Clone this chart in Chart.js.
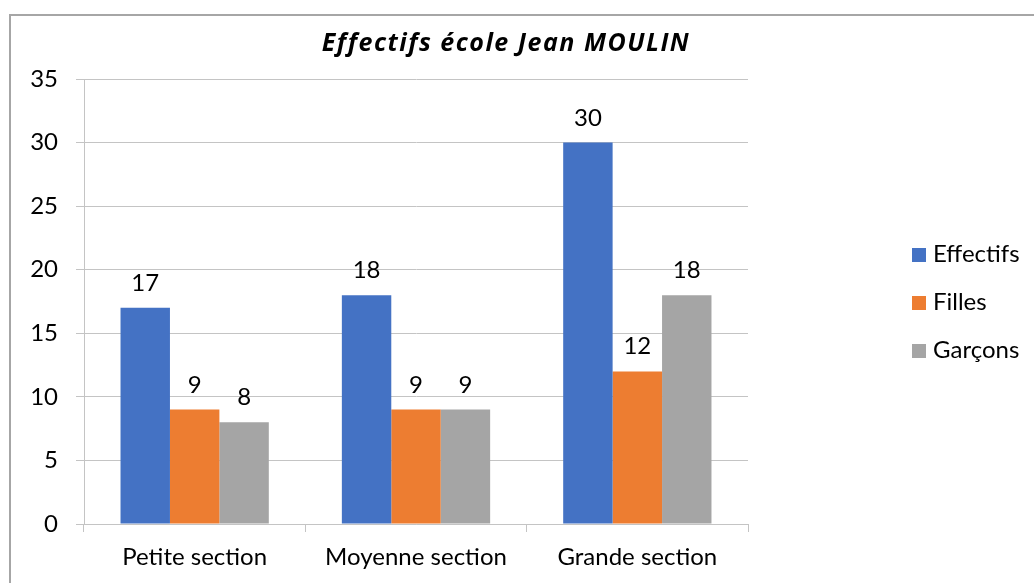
<!DOCTYPE html>
<html>
<head>
<meta charset="utf-8">
<script src="https://cdn.jsdelivr.net/npm/chart.js@4.4.0/dist/chart.umd.min.js"></script>
<style>
  html, body { margin: 0; padding: 0; background: #fff; }
  #wrap { width: 1034px; height: 583px; position: relative; }
</style>
</head>
<body>
<div id="wrap"><canvas id="myChart"></canvas></div>
<script>
const categories = ["Petite section", "Moyenne section", "Grande section"];
const effectifs = [17, 18, 30];
const filles = [9, 9, 12];
const garcons = [8, 9, 18];
const seriesNames = ["Effectifs", "Filles", "Garçons"];
const seriesColors = ["#4472C4", "#ED7D31", "#A5A5A5"];
const yMin = 0, yMax = 35, yStep = 5;
const chartTitle = "Effectifs école Jean MOULIN";

const FONT = "Lato, 'Liberation Sans', sans-serif";
const TITLE_FONT = "'Open Sans', Lato, sans-serif";
const gridColor = "#c4c4c4";

// outer frame + title + legend + value labels
const decorations = {
  id: "decorations",
  beforeDraw(chart) {
    const ctx = chart.ctx;
    ctx.save();
    ctx.strokeStyle = "#a6a6a6";
    ctx.lineWidth = 2;
    ctx.beginPath();
    ctx.moveTo(1040, 15);
    ctx.lineTo(10, 15);
    ctx.lineTo(10, 590);
    ctx.stroke();
    ctx.restore();
  },
  afterDatasetsDraw(chart) {
    const ctx = chart.ctx;
    ctx.save();
    ctx.fillStyle = "#000";
    ctx.font = "24px " + FONT;
    ctx.textAlign = "center";
    ctx.textBaseline = "alphabetic";
    chart.data.datasets.forEach((ds, i) => {
      chart.getDatasetMeta(i).data.forEach((bar, j) => {
        ctx.fillText(String(ds.data[j]), bar.x, bar.y - 17);
      });
    });
    ctx.restore();
  },
  afterDraw(chart) {
    const ctx = chart.ctx;
    ctx.save();
    // title
    ctx.fillStyle = "#000";
    ctx.font = "italic bold 25px " + TITLE_FONT;
    ctx.letterSpacing = "1.5px";
    ctx.textAlign = "center";
    ctx.textBaseline = "alphabetic";
    ctx.fillText(chartTitle, 506, 51);
    ctx.letterSpacing = "0px";
    // legend
    ctx.font = "24px " + FONT;
    ctx.textAlign = "left";
    chart.data.datasets.forEach((ds, i) => {
      const yc = 255 + i * 48;
      ctx.fillStyle = ds.backgroundColor;
      ctx.fillRect(912, yc - 7, 14, 14);
      ctx.fillStyle = "#000";
      ctx.fillText(ds.label, 933, yc + 7);
    });
    ctx.restore();
  }
};

const info = {
  labels: categories,
  datasets: [effectifs, filles, garcons].map((vals, i) => ({
    label: seriesNames[i],
    data: vals,
    backgroundColor: seriesColors[i],
    borderWidth: 0,
    categoryPercentage: 0.67,
    barPercentage: 1.0,
  })),
};

const options = {
  responsive: true,
  maintainAspectRatio: false,
  animation: false,
  layout: { padding: { left: 20, top: 79, right: 286, bottom: 9 } },
  scales: {
    x: {
      grid: {
        drawOnChartArea: false,
        drawTicks: true,
        tickLength: 8,
        offset: true,
        color: gridColor,
      },
      border: { display: true, color: gridColor },
      ticks: { color: "#000", font: { family: FONT, size: 24 }, padding: 11 },
      afterFit(scale) { scale.height = 50; },
    },
    y: {
      min: yMin,
      max: yMax,
      ticks: { stepSize: yStep, color: "#000", font: { family: FONT, size: 24 }, padding: 18 },
      grid: { color: gridColor, tickLength: 8 },
      border: { display: true, color: gridColor },
      afterFit(scale) { scale.width = 64; },
    },
  },
  plugins: {
    legend: { display: false },
    tooltip: { enabled: false },
  },
};

new Chart(document.getElementById("myChart"), {
  type: "bar",
  data: info,
  options,
  plugins: [decorations],
});
</script>
</body>
</html>
